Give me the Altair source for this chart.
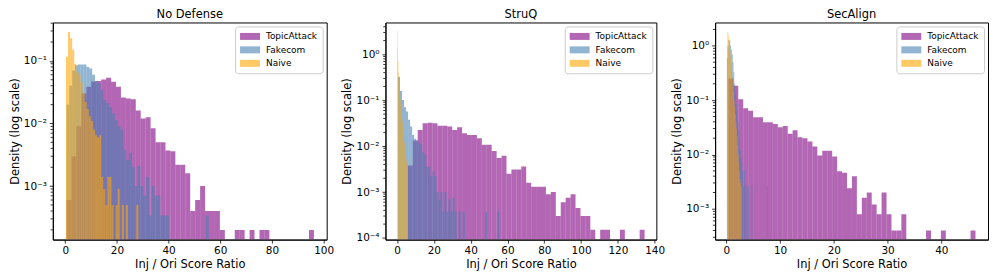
import altair as alt
import pandas as pd

SERIES = ["TopicAttack", "Fakecom", "Naive"]
COLORS = ["#800080", "#4682b4", "#ffa500"]
FONT = "DejaVu Sans"

# ---------------- Panel 1: No Defense ----------------
P1_TITLE = "No Defense"
P1_TA_START, P1_TA_WIDTH = 0.5, 1.915
P1_TA = [0.0006, 0.003, 0.009, 0.030, 0.0386, 0.047, 0.0475, 0.0506, 0.0537, 0.0464,
         0.0386, 0.0259, 0.025, 0.0243, 0.0161, 0.012, 0.0126, 0.0084, 0.005, 0.005,
         0.0037, 0.0036, 0.0022, 0.0022, 0.0016, 0.0004, 0.0006, 0.001, 0.0004, 0.0004,
         0.0004, 0.0002, 0, 0, 0.0002, 0.0002, 0, 0.0002, 0, 0.0002,
         0.0002, 0, 0, 0, 0, 0, 0, 0, 0, 0.0002]
P1_FC_START, P1_FC_WIDTH = 0.5, 1.1
P1_FC = [0.02, 0.04, 0.07, 0.085, 0.0875, 0.0875, 0.0875, 0.08, 0.0756, 0.06,
         0.0475, 0.0437, 0.0342, 0.0237, 0.021, 0.0182, 0.0146, 0.0114, 0.009, 0.008,
         0.0038, 0.0026, 0.0034, 0.002, 0.001, 0.0021, 0.001, 0.0007, 0.0014, 0.00034,
         0.001, 0.0007, 0.0007, 0.00034, 0.00034, 0.00034, 0, 0, 0, 0,
         0, 0, 0, 0, 0, 0, 0, 0, 0, 0.00034]
P1_NV_START, P1_NV_WIDTH = 0.3, 0.8
P1_NV = [0.116, 0.29, 0.23, 0.15, 0.09, 0.067, 0.06, 0.045, 0.03, 0.022,
         0.017, 0.013, 0.011, 0.008, 0.0065, 0.006, 0.0065, 0.0014, 0.0009, 0.0005,
         0.0014, 0.0014, 0.0005, 0, 0.0005, 0.0009, 0, 0.0005, 0, 0.0005,
         0, 0, 0, 0, 0.0005, 0, 0, 0, 0, 0,
         0, 0, 0, 0, 0, 0, 0, 0, 0, 0]
P1_XDOM = [-4.8, 101.2]
P1_XTICKS = [0, 20, 40, 60, 80, 100]
P1_YDOM = [1.4e-4, 0.41]
P1_YMAJOR = [1e-3, 1e-2, 1e-1]
P1_YMINOR = [2e-4, 3e-4, 4e-4, 5e-4, 6e-4, 7e-4, 8e-4, 9e-4,
             2e-3, 3e-3, 4e-3, 5e-3, 6e-3, 7e-3, 8e-3, 9e-3,
             2e-2, 3e-2, 4e-2, 5e-2, 6e-2, 7e-2, 8e-2, 9e-2,
             2e-1, 3e-1, 4e-1]

# ---------------- Panel 2: StruQ ----------------
P2_TITLE = "StruQ"
P2_TA_START, P2_TA_WIDTH = 0.5, 2.68
P2_TA = [0, 0, 0.0038, 0.0133, 0.0226, 0.0316, 0.0325, 0.0316, 0.0277, 0.0277,
         0.0268, 0.0226, 0.0259, 0.0192, 0.0176, 0.0176, 0.0149, 0.0107, 0.0107, 0.0078,
         0.0055, 0.0062, 0.0025, 0.0031, 0.0031, 0.0036, 0.0016, 0.0013, 0.0013, 0.0013,
         0.0009, 0.001, 0.0003, 0.0006, 0.00075, 0.0009, 0.00045, 0.0003, 0.0003, 0.00015,
         0, 0.00015, 0.00015, 0, 0, 0.00015, 0, 0, 0, 0.00015]
P2_FC_START, P2_FC_WIDTH = 0.5, 1.1
P2_FC = [0.327, 0.16, 0.102, 0.0705, 0.0567, 0.0374, 0.0268, 0.0176, 0.0145, 0.0133,
         0.012, 0.011, 0.0075, 0.0065, 0.0036, 0.0036, 0.0022, 0.0028, 0.0022, 0.001,
         0.00068, 0.001, 0.00037, 0.001, 0.00037, 0.0007, 0.00037, 0.00074, 0.00037, 0,
         0.00037, 0, 0.00037, 0, 0, 0, 0, 0, 0, 0,
         0, 0, 0, 0.00037, 0, 0, 0, 0, 0, 0.00037]
P2_NV_START, P2_NV_WIDTH = 0.0, 0.236
P2_NV = [3.2, 1.4, 0.7, 0.4, 0.28, 0.2, 0.15, 0.11, 0.085, 0.065,
         0.05, 0.042, 0.034, 0.026, 0.02, 0.016, 0.013, 0.011, 0.009, 0.0075,
         0.0062, 0.005, 0.0042, 0.0036, 0.003]
P2_XDOM = [-6.3, 140.9]
P2_XTICKS = [0, 20, 40, 60, 80, 100, 120, 140]
P2_YDOM = [9.2e-5, 4.96]
P2_YMAJOR = [1e-4, 1e-3, 1e-2, 1e-1, 1.0]
P2_YMINOR = [2e-4, 3e-4, 4e-4, 5e-4, 6e-4, 7e-4, 8e-4, 9e-4,
             2e-3, 3e-3, 4e-3, 5e-3, 6e-3, 7e-3, 8e-3, 9e-3,
             2e-2, 3e-2, 4e-2, 5e-2, 6e-2, 7e-2, 8e-2, 9e-2,
             2e-1, 3e-1, 4e-1, 5e-1, 6e-1, 7e-1, 8e-1, 9e-1,
             2.0, 3.0, 4.0]

# ---------------- Panel 3: SecAlign ----------------
P3_TITLE = "SecAlign"
P3_TA_START, P3_TA_WIDTH = 0.37, 0.92
P3_TA = [0.25, 0.185, 0.104, 0.071, 0.064, 0.0485, 0.0485, 0.0393, 0.0393, 0.0366,
         0.0318, 0.0336, 0.024, 0.028, 0.0208, 0.020, 0.0173, 0.014, 0.0096, 0.0117,
         0.0117, 0.0092, 0.0049, 0.0046, 0.0024, 0.004, 0.0008, 0.0016, 0.002, 0.0012,
         0.0008, 0.002, 0.0008, 0.0004, 0.0004, 0.0008, 0, 0, 0, 0,
         0.0004, 0, 0, 0.0004, 0, 0, 0, 0, 0, 0.0004]
P3_FC_START, P3_FC_WIDTH = 0.1, 0.152
P3_FC = [0.6, 1.0, 1.3, 1.25, 1.0, 0.85, 0.7, 0.5, 0.33, 0.2,
         0.13, 0.085, 0.06, 0.04, 0.028, 0.02, 0.012, 0.009, 0.007, 0.005,
         0.0026, 0.0052, 0.0026, 0, 0.0026, 0, 0.0026, 0, 0, 0,
         0.0026, 0, 0, 0, 0, 0, 0, 0, 0, 0,
         0, 0, 0, 0, 0, 0, 0, 0, 0, 0.0026]
P3_NV_START, P3_NV_WIDTH = 0.1, 0.108
P3_NV = [1.0, 1.8, 1.6, 1.3, 1.0, 0.8, 0.6, 0.45, 0.33, 0.25,
         0.18, 0.14, 0.1, 0.075, 0.055, 0.04, 0.03, 0.022, 0.015, 0.01,
         0.007, 0.005, 0.0035, 0.003, 0.0026]
P3_XDOM = [-2.1, 48.7]
P3_XTICKS = [0, 10, 20, 30, 40]
P3_YDOM = [2.72e-4, 2.69]
P3_YMAJOR = [1e-3, 1e-2, 1e-1, 1.0]
P3_YMINOR = [3e-4, 4e-4, 5e-4, 6e-4, 7e-4, 8e-4, 9e-4,
             2e-3, 3e-3, 4e-3, 5e-3, 6e-3, 7e-3, 8e-3, 9e-3,
             2e-2, 3e-2, 4e-2, 5e-2, 6e-2, 7e-2, 8e-2, 9e-2,
             2e-1, 3e-1, 4e-1, 5e-1, 6e-1, 7e-1, 8e-1, 9e-1,
             2.0]

X_TITLE = "Inj / Ori Score Ratio"
Y_TITLE = "Density (log scale)"

LABEL_EXPR = ("datum.value < 0.0005 ? '10⁻⁴' : datum.value < 0.005 ? '10⁻³' : "
              "datum.value < 0.05 ? '10⁻²' : datum.value < 0.5 ? '10⁻¹' : '10⁰'")


def bins_df(series, start, width, values):
    rows = []
    for i, v in enumerate(values):
        if v > 0:
            rows.append({"series": series, "x0": start + i * width,
                         "x1": start + (i + 1) * width, "y": v})
    return pd.DataFrame(rows)


def panel(title, parts, xdom, xticks, ydom, ymajor, yminor, w, h):
    xscale = alt.Scale(domain=xdom, nice=False, zero=False)
    yscale = alt.Scale(type="log", domain=ydom, nice=False)
    xaxis = alt.Axis(values=xticks, format="d", title=X_TITLE)
    yaxis = alt.Axis(values=ymajor, labelExpr=LABEL_EXPR, title=Y_TITLE)
    legend = alt.Legend(
        title=None, orient="top-right", offset=4,
        symbolType="M-1,-0.7H3V0.7H-1Z", symbolSize=100, symbolOpacity=0.6,
        symbolStrokeWidth=0, labelFontSize=9, labelFont=FONT, labelColor="black",
        labelOffset=16, rowPadding=3.5, padding=5, strokeColor="#cccccc",
        fillColor="white", cornerRadius=3)
    color = alt.Color("series:N", scale=alt.Scale(domain=SERIES, range=COLORS),
                      legend=legend)
    layers = []
    for name, df in parts:
        layers.append(
            alt.Chart(df).mark_bar(opacity=0.6, clip=True, strokeWidth=0).encode(
                x=alt.X("x0:Q", scale=xscale, axis=xaxis),
                x2="x1:Q",
                y=alt.Y("y:Q", scale=yscale, axis=yaxis),
                y2=alt.value(h),
                color=color,
            )
        )
    minor = alt.Chart(pd.DataFrame({"v": yminor})).mark_rule(
        color="black", strokeWidth=0.8).encode(
        y=alt.Y("v:Q", scale=yscale, axis=yaxis),
        x=alt.value(0), x2=alt.value(-2.2))
    return alt.layer(*layers, minor).properties(
        width=w, height=h,
        title=alt.Title(title, fontSize=11.5, font=FONT, fontWeight="normal",
                        color="black", offset=2))


H = 218
p1 = panel(P1_TITLE,
           [("TopicAttack", bins_df("TopicAttack", P1_TA_START, P1_TA_WIDTH, P1_TA)),
            ("Fakecom", bins_df("Fakecom", P1_FC_START, P1_FC_WIDTH, P1_FC)),
            ("Naive", bins_df("Naive", P1_NV_START, P1_NV_WIDTH, P1_NV))],
           P1_XDOM, P1_XTICKS, P1_YDOM, P1_YMAJOR, P1_YMINOR, 275, H)
p2 = panel(P2_TITLE,
           [("TopicAttack", bins_df("TopicAttack", P2_TA_START, P2_TA_WIDTH, P2_TA)),
            ("Fakecom", bins_df("Fakecom", P2_FC_START, P2_FC_WIDTH, P2_FC)),
            ("Naive", bins_df("Naive", P2_NV_START, P2_NV_WIDTH, P2_NV))],
           P2_XDOM, P2_XTICKS, P2_YDOM, P2_YMAJOR, P2_YMINOR, 272, H)
p3 = panel(P3_TITLE,
           [("TopicAttack", bins_df("TopicAttack", P3_TA_START, P3_TA_WIDTH, P3_TA)),
            ("Fakecom", bins_df("Fakecom", P3_FC_START, P3_FC_WIDTH, P3_FC)),
            ("Naive", bins_df("Naive", P3_NV_START, P3_NV_WIDTH, P3_NV))],
           P3_XDOM, P3_XTICKS, P3_YDOM, P3_YMAJOR, P3_YMINOR, 274, H)

chart = alt.hconcat(p1, p2, p3, spacing=59, bounds="flush").resolve_scale(
    color="independent", x="independent", y="independent"
).resolve_legend(color="independent").properties(
    padding={"left": 0, "top": 0, "right": 0, "bottom": 0}
).configure_view(
    stroke="black", strokeWidth=1
).configure_axis(
    domain=True, domainColor="black", domainWidth=1,
    ticks=True, tickColor="black", tickSize=3.5, tickWidth=0.8,
    labelFont=FONT, labelFontSize=10.5, labelColor="black", labelPadding=2,
    titleFont=FONT, titleFontSize=11.5, titleFontWeight="normal", titleColor="black",
    titlePadding=3, grid=False, zindex=1
).configure_axisY(
    labelPadding=3
)

chart.save("out.html", embed_options={"renderer": "svg", "actions": False})
